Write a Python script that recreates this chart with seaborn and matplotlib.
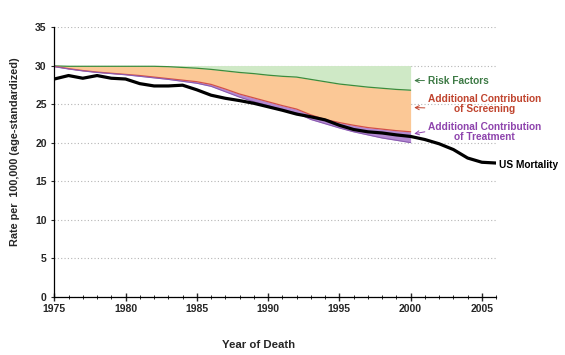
import numpy as np
import pandas as pd
import seaborn as sns
import matplotlib.pyplot as plt

# Modelled scenarios, 1975-2000
model_years = list(range(1975, 2001))
baseline = 30.0
risk_factors = [29.95, 29.9, 29.9, 29.9, 29.9, 29.9, 29.9, 29.9, 29.85, 29.75,
                29.65, 29.5, 29.3, 29.1, 28.95, 28.75, 28.6, 28.5, 28.2, 27.9,
                27.6, 27.4, 27.2, 27.05, 26.9, 26.8]
screening = [29.9, 29.6, 29.35, 29.15, 29.0, 28.85, 28.7, 28.5, 28.3, 28.1,
             27.9, 27.55, 26.95, 26.3, 25.8, 25.3, 24.8, 24.35, 23.6, 23.0,
             22.6, 22.25, 21.95, 21.75, 21.55, 21.4]
treatment = [29.85, 29.55, 29.3, 29.1, 28.95, 28.8, 28.6, 28.4, 28.2, 27.95,
             27.7, 27.3, 26.6, 25.9, 25.3, 24.8, 24.2, 23.85, 23.0, 22.45,
             21.9, 21.4, 21.0, 20.6, 20.3, 20.0]

# Observed US mortality, 1975-2006
us_years = list(range(1975, 2007))
us_mortality = [28.25, 28.7, 28.35, 28.7, 28.35, 28.25, 27.65, 27.35, 27.35, 27.45,
                26.85, 26.15, 25.75, 25.45, 25.1, 24.65, 24.2, 23.7, 23.35, 22.95,
                22.25, 21.7, 21.4, 21.25, 21.0, 20.8, 20.4, 19.85, 19.1, 18.0,
                17.45, 17.35]

y_ticks = [0, 5, 10, 15, 20, 25, 30, 35]
x_ticks = [1975, 1980, 1985, 1990, 1995, 2000, 2005]

models = pd.DataFrame({'year': model_years, 'risk': risk_factors,
                       'screen': screening, 'treat': treatment})
us = pd.DataFrame({'year': us_years, 'rate': us_mortality})

sns.set_style('white')
plt.rcParams['font.family'] = ['Liberation Sans', 'DejaVu Sans']
plt.rcParams['font.weight'] = 'bold'

fig = plt.figure(figsize=(5.65, 3.55), dpi=100)
ax = fig.add_axes([0.0961, 0.164, 0.782, 0.760])

# shaded bands
ax.fill_between(models['year'], baseline, models['risk'], color='#cfe9c6', lw=0)
ax.fill_between(models['year'], models['risk'], models['screen'], color='#fbc896', lw=0)
ax.fill_between(models['year'], models['screen'], models['treat'], color='#b48ad2', lw=0)

sns.lineplot(data=models, x='year', y='risk', ax=ax, color='#3c8c3c', lw=0.9)
sns.lineplot(data=models, x='year', y='screen', ax=ax, color='#d2504a', lw=0.9)
sns.lineplot(data=models, x='year', y='treat', ax=ax, color='#8a5cb0', lw=0.8)
sns.lineplot(data=us, x='year', y='rate', ax=ax, color='black', lw=2.3)

ax.set_xlim(1975, 2006)
ax.set_ylim(0, 35)
ax.set_yticks(y_ticks)
ax.set_xticks(x_ticks)
ax.set_xticks(range(1975, 2007), minor=True)
ax.set_xlabel('')
ax.set_ylabel('')
ax.yaxis.grid(True, linestyle=(0, (1, 2)), color='#b5b5b5', lw=0.8)
ax.xaxis.grid(False)
for s in ['top', 'right']:
    ax.spines[s].set_visible(False)
for s in ['left', 'bottom']:
    ax.spines[s].set_color('black')
    ax.spines[s].set_linewidth(0.9)
ax.tick_params(axis='y', left=True, direction='out', length=2.5, width=0.8,
               pad=3, labelsize=7.5)
ax.tick_params(axis='x', which='major', bottom=True, direction='inout', length=6,
               width=1.0, pad=2.5, labelsize=7.5)
ax.tick_params(axis='x', which='minor', bottom=True, direction='inout', length=3,
               width=0.7)
for lab in ax.get_xticklabels() + ax.get_yticklabels():
    lab.set_fontweight('bold')

# annotations
arrow = dict(arrowstyle='->', lw=0.7, shrinkA=0, shrinkB=0)
ax.annotate('Risk Factors', xy=(2000.25, 28.05), xytext=(2001.2, 28.05),
            color='#3d7a45', fontsize=7.3, fontweight='bold', va='center', ha='left',
            arrowprops=dict(arrow, color='#3d7a45'), annotation_clip=False)
ax.annotate('Additional Contribution\nof Screening', xy=(2000.25, 24.55),
            xytext=(2005.2, 25.0), color='#c0442e', fontsize=7.3, fontweight='bold',
            va='center', ha='center', linespacing=0.95,
            arrowprops=dict(arrow, color='#c0442e', relpos=(0.0, 0.3)),
            annotation_clip=False)
ax.annotate('Additional Contribution\nof Treatment', xy=(2000.25, 21.15),
            xytext=(2005.2, 21.35), color='#8e44ad', fontsize=7.3, fontweight='bold',
            va='center', ha='center', linespacing=0.95,
            arrowprops=dict(arrow, color='#8e44ad', relpos=(0.0, 0.55)),
            annotation_clip=False)
ax.text(2006.2, 17.1, 'US Mortality', color='black', fontsize=7.3,
        fontweight='bold', va='center', ha='left', clip_on=False)

fig.text(15 / 565, 1 - 152 / 355, 'Rate per  100,000 (age-standardized)',
         rotation=90, ha='center', va='center', fontsize=7.8, fontweight='bold')
fig.text(259 / 565, 1 - 345 / 355, 'Year of Death', ha='center', va='center',
         fontsize=8.2, fontweight='bold')

fig.savefig('out.png', dpi=100)
